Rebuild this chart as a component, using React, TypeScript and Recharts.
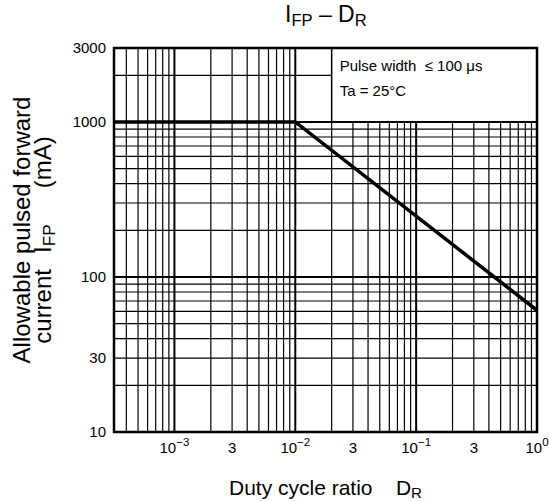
import React from "react";
import {
  LineChart,
  Line,
  XAxis,
  YAxis,
  ReferenceLine,
  ReferenceArea,
} from "recharts";

// pulse current derating vs duty cycle
const dutyRatio = [0.000316228, 0.01, 1];
const pulseCurrent = [1000, 1000, 61];

const xTicks = [0.001, 0.003, 0.01, 0.03, 0.1, 0.3, 1];
const xTickLabels = ["10^−3", "3", "10^−2", "3", "10^−1", "3", "10^0"];
const yTicks = [10, 30, 100, 1000, 3000];

const xMajorGrid = [0.001, 0.01, 0.1];
const xMinorGrid = [
  0.0004, 0.0005, 0.0006, 0.0007, 0.0008, 0.0009,
  0.002, 0.003, 0.004, 0.005, 0.006, 0.007, 0.008, 0.009,
  0.02, 0.03, 0.04, 0.05, 0.06, 0.07, 0.08, 0.09,
  0.2, 0.3, 0.4, 0.5, 0.6, 0.7, 0.8, 0.9,
];
const yMajorGrid = [100, 1000];
const yMinorGrid = [20, 30, 40, 50, 60, 70, 80, 90, 200, 300, 400, 500, 600, 700, 800, 900, 2000];

const xMin = 0.000316228;
const xMax = 1;
const yMin = 10;
const yMax = 3000;
const boxLeft = 0.02;
const boxBottom = 1000;

const data = dutyRatio.map((d, i) => ({ d, i: pulseCurrent[i] }));

const FONT = '"Liberation Sans", Arial, sans-serif';
const subStyle = { fontSize: "0.72em", verticalAlign: "-0.22em" } as const;

function XTick(props: any) {
  const { x, y, payload } = props;
  const label = xTickLabels[xTicks.indexOf(payload.value)] ?? "";
  const [base, exp] = label.split("^");
  return (
    <text x={x} y={y + 21} textAnchor="middle" fontSize={15} fontWeight={400} stroke="none" fontFamily={FONT} fill="#000">
      {base}
      {exp !== undefined && (
        <tspan dy={-7} fontSize={11.5}>
          {exp}
        </tspan>
      )}
    </text>
  );
}

function YTick(props: any) {
  const { x, y, payload } = props;
  return (
    <text x={x - 8} y={y} dy="0.35em" textAnchor="end" fontSize={15} fontWeight={400} stroke="none" fontFamily={FONT} fill="#000">
      {payload.value}
    </text>
  );
}

function vLine(v: number, w: number) {
  if (v >= boxLeft) {
    return (
      <ReferenceLine
        key={"v" + v}
        segment={[{ x: v, y: yMin }, { x: v, y: boxBottom }]}
        stroke="#000"
        strokeWidth={w}
      />
    );
  }
  return <ReferenceLine key={"v" + v} x={v} stroke="#000" strokeWidth={w} />;
}

function hLine(v: number, w: number) {
  if (v > boxBottom) {
    return (
      <ReferenceLine
        key={"h" + v}
        segment={[{ x: xMin, y: v }, { x: boxLeft, y: v }]}
        stroke="#000"
        strokeWidth={w}
      />
    );
  }
  return <ReferenceLine key={"h" + v} y={v} stroke="#000" strokeWidth={w} />;
}

function BoxText(props: any) {
  const vb = props.viewBox || {};
  return (
    <g fontFamily={FONT} fontSize={15} fill="#000">
      <text x={vb.x + 8} y={vb.y + 23} style={{ whiteSpace: "pre" }}>Pulse width  ≤ 100 μs</text>
      <text x={vb.x + 8} y={vb.y + 48}>Ta = 25°C</text>
    </g>
  );
}

const rotated = (cx: number, cy: number) =>
  ({
    position: "absolute",
    left: cx,
    top: cy,
    transform: "translate(-50%, -50%) rotate(-90deg)",
    fontSize: 24,
    lineHeight: "24px",
    whiteSpace: "pre",
  }) as const;

export default function App() {
  return (
    <div style={{ position: "absolute", left: 0, top: 0, width: 550, height: 502, background: "#fff", fontFamily: FONT }}>
      <div style={{ position: "absolute", left: 285, top: 1, fontSize: 23, lineHeight: "26px", whiteSpace: "pre" }}>
        I<sub style={subStyle}>FP</sub> – D<sub style={subStyle}>R</sub>
      </div>
      <LineChart width={550} height={502} data={data} margin={{ top: 48, right: 13, bottom: 0, left: 0 }}>
        <XAxis
          dataKey="d"
          type="number"
          scale="log"
          domain={[xMin, xMax]}
          allowDataOverflow
          ticks={xTicks}
          tick={<XTick />}
          tickLine={false}
          axisLine={false}
          tickSize={0}
          tickMargin={0}
          height={70}
          interval={0}
        />
        <YAxis
          type="number"
          scale="log"
          domain={[yMin, yMax]}
          allowDataOverflow
          ticks={yTicks}
          tick={<YTick />}
          tickLine={false}
          axisLine={false}
          tickSize={0}
          tickMargin={0}
          width={114}
          interval={0}
        />
        {xMinorGrid.map((v) => vLine(v, 1.2))}
        {xMajorGrid.map((v) => vLine(v, 2))}
        {yMinorGrid.map((v) => hLine(v, 1.2))}
        {yMajorGrid.map((v) => hLine(v, 2))}
        <ReferenceArea
          x1={boxLeft}
          x2={xMax}
          y1={boxBottom}
          y2={yMax}
          fill="#fff"
          fillOpacity={1}
          stroke="#000"
          strokeWidth={1.5}
          label={<BoxText />}
        />
        <ReferenceArea x1={xMin} x2={xMax} y1={yMin} y2={yMax} fill="none" stroke="#000" strokeWidth={2.5} />
        <Line
          dataKey="i"
          type="linear"
          stroke="#000"
          strokeWidth={3.5}
          dot={false}
          isAnimationActive={false}
        />
      </LineChart>
      <div style={{ position: "absolute", left: 229, top: 476, fontSize: 21, whiteSpace: "pre", lineHeight: "24px" }}>
        Duty cycle ratio    D<sub style={subStyle}>R</sub>
      </div>
      <div style={rotated(22, 230)}>Allowable pulsed forward</div>
      <div style={rotated(46, 240)}>
        current
        <span style={{ marginLeft: 16 }}>I</span>
        <sub style={subStyle}>FP</sub>
        <span style={{ marginLeft: 36 }}>(mA)</span>
      </div>
    </div>
  );
}
